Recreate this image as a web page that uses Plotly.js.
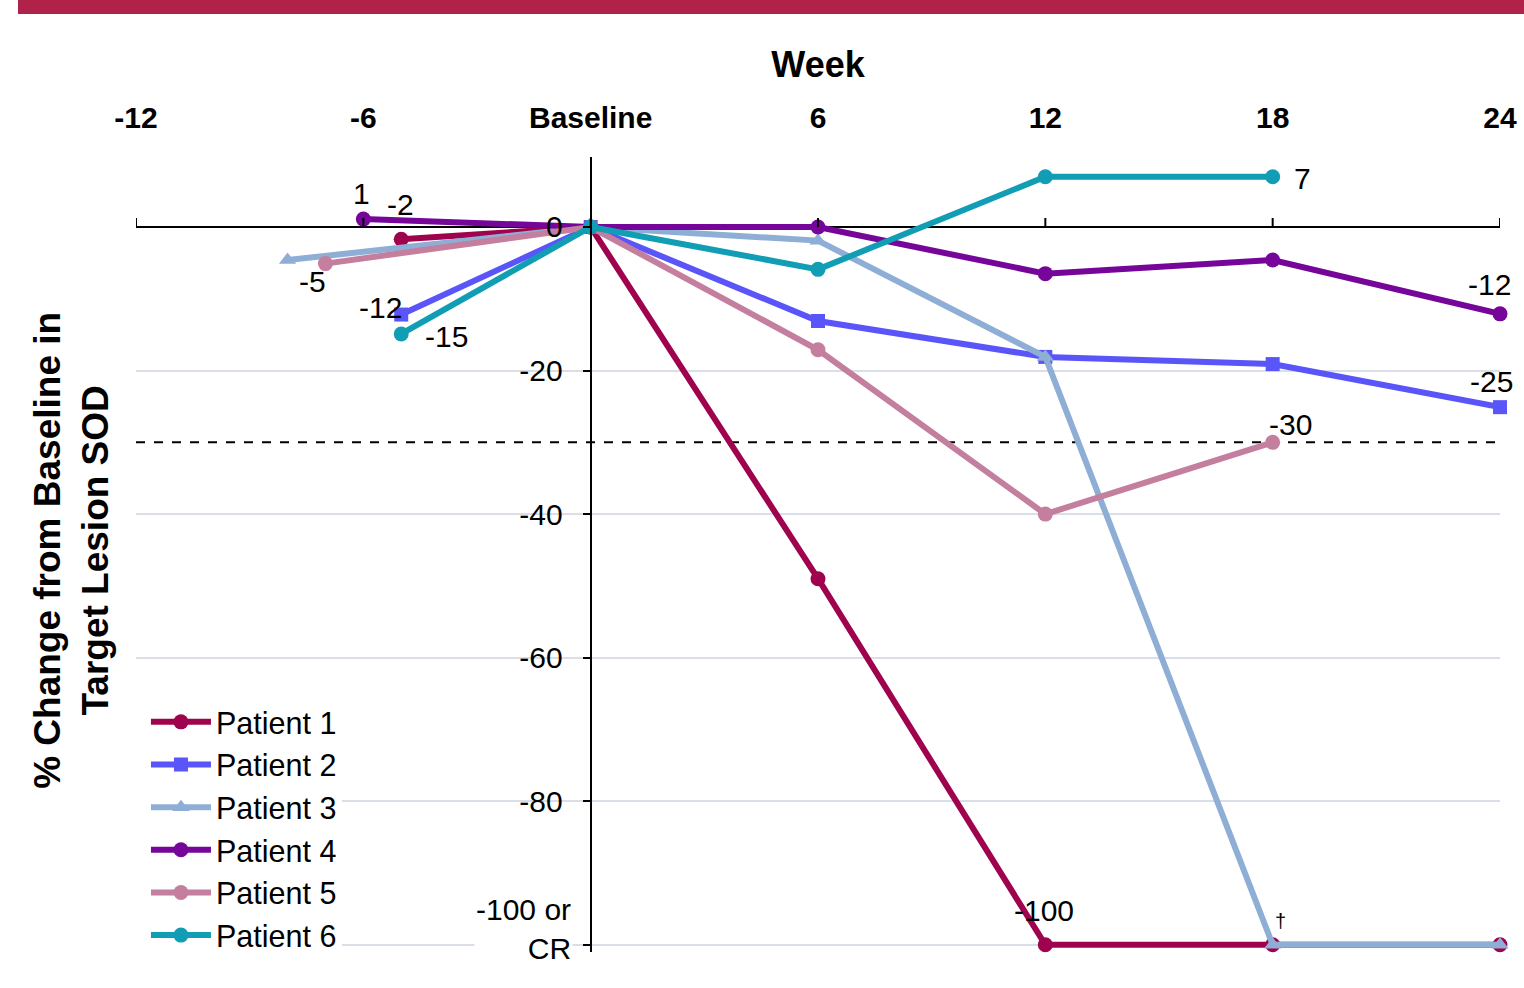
<!DOCTYPE html>
<html>
<head>
<meta charset="utf-8">
<script src="https://cdn.plot.ly/plotly-3.0.1.min.js"></script>
<style>html,body{margin:0;padding:0;background:#fff;}#chart{width:1524px;height:988px;}</style>
</head>
<body>
<div id="chart"></div>
<script>
// ---- data ----
const patientNames = ["Patient 1","Patient 2","Patient 3","Patient 4","Patient 5","Patient 6"];
const p1Weeks = [-5, 0, 6, 12, 18, 24];
const p1Values = [-1.7, 0, -49, -100, -100, -100];
const p2Weeks = [-5, 0, 6, 12, 18, 24];
const p2Values = [-12.2, 0, -13.1, -18.1, -19.1, -25.1];
const p3Weeks = [-8, 0, 6, 12, 18, 24];
const p3Values = [-4.6, 0, -1.9, -18.1, -100, -100];
const p4Weeks = [-6, 0, 6, 12, 18, 24];
const p4Values = [1.1, 0, 0, -6.5, -4.6, -12.1];
const p5Weeks = [-7, 0, 6, 12, 18];
const p5Values = [-5.1, 0, -17.1, -40, -30];
const p6Weeks = [-5, 0, 6, 12, 18];
const p6Values = [-14.9, 0, -5.9, 7, 7];

const xTickVals = [-12, -6, 0, 6, 12, 18, 24];
const xTickText = ["-12", "-6", "Baseline", "6", "12", "18", "24"];
const yTickVals = [0, -20, -40, -60, -80, -100];
const yTickText = ["0", "-20", "-40", "-60", "-80", ""];
const yBottomLabel = "-100 or<br>CR";
const thresholdValue = -30;

// data labels: [patient index, point index, text, xshift, yshift]
const dataLabels = [
  [3, 0, "1", -2, 26],
  [0, 0, "-2", -1, 35],
  [4, 0, "-5", -13, -18],
  [1, 0, "-12", -21, 7],
  [5, 0, "-15", 45, -3],
  [5, 4, "7", 30, -2],
  [3, 5, "-12", -11, 29],
  [1, 5, "-25", -9, 26],
  [4, 4, "-30", 18, 18],
  [0, 3, "-100", -1, 34],
  [2, 4, "\u2020", 8, 24]
];

// ---- styling ----
const colors = ["#A0034E", "#5A55F8", "#8EAED6", "#76069A", "#C47E9E", "#119EB4"];
const symbols = ["circle", "square", "triangle-up", "circle", "circle", "circle"];
const weeks = [p1Weeks, p2Weeks, p3Weeks, p4Weeks, p5Weeks, p6Weeks];
const values = [p1Values, p2Values, p3Values, p4Values, p5Values, p6Values];
const FONT = "Arial, 'Liberation Sans', Helvetica, sans-serif";

const traces = patientNames.map((n, i) => ({
  type: "scatter", mode: "lines+markers", name: n,
  x: weeks[i], y: values[i],
  line: {color: colors[i], width: 6},
  marker: {color: colors[i], size: symbols[i] === "square" ? 14 : 15, symbol: symbols[i]},
  cliponaxis: false
}));

const annotations = dataLabels.map(d => ({
  x: weeks[d[0]][d[1]], y: values[d[0]][d[1]], xref: "x", yref: "y",
  text: d[2], showarrow: false, xshift: d[3], yshift: d[4],
  font: {family: FONT, size: d[2] === "\u2020" ? 20 : 30, color: "#000"}
}));
annotations.push({
  xref: "paper", yref: "paper", x: -0.047, y: 0.5057, xanchor: "center", yanchor: "middle",
  text: "% Change from Baseline in<br>Target Lesion SOD", textangle: -90, showarrow: false,
  font: {family: FONT, size: 37, color: "#000", weight: "bold"}
});
annotations.push({
  xref: "x", yref: "y", x: 0, y: yTickVals[yTickVals.length - 1], xanchor: "right", yanchor: "middle",
  xshift: -18, yshift: 16, align: "right", showarrow: false, bgcolor: "#fff",
  text: yBottomLabel, font: {family: FONT, size: 30, color: "#000"}
});

const shapes = [
  {type: "rect", xref: "paper", yref: "paper", x0: -0.0865, x1: 1.1, y0: 1.1799, y1: 1.3,
   fillcolor: "#B0224A", line: {width: 0}, layer: "above"},
  {type: "line", xref: "paper", yref: "y", x0: 0, x1: 1, y0: thresholdValue, y1: thresholdValue,
   line: {color: "#000", width: 2, dash: "dash"}, layer: "between"},
  // white margin to the left of the legend box (legend background in the original starts at the plot edge)
  {type: "rect", xref: "paper", yref: "y", x0: -0.002, x1: 0.008, y0: -102, y1: -66,
   fillcolor: "#fff", line: {width: 0}, layer: "above"}
];
xTickVals.forEach(v => shapes.push({
  type: "line", xref: "x", yref: "y", ysizemode: "pixel", yanchor: 0,
  x0: v, x1: v, y0: 0, y1: 9, line: {color: "#000", width: 2}
}));

const layout = {
  width: 1524, height: 988,
  margin: {l: 136, r: 24, t: 157, b: 36},
  paper_bgcolor: "#fff", plot_bgcolor: "#fff",
  font: {family: FONT, color: "#000"},
  showlegend: true,
  legend: {x: 0.0073, y: -0.012, xanchor: "left", yanchor: "bottom", bgcolor: "#fff",
           borderwidth: 0, itemwidth: 60, tracegroupgap: 0,
           font: {family: FONT, size: 30.5, color: "#000"}},
  xaxis: {
    side: "top", range: [-12, 24], tickvals: xTickVals, ticktext: xTickText,
    showgrid: false, zeroline: false, showline: false, ticks: "",
    ticklabelstandoff: 22,
    tickfont: {family: FONT, size: 30, color: "#000", weight: "bold"},
    title: {text: "Week", standoff: 12, font: {family: FONT, size: 36, color: "#000", weight: "bold"}}
  },
  yaxis: {
    range: [-101, 9.75], tickvals: yTickVals, ticktext: yTickText,
    anchor: "free", position: (0 - (-12)) / 36, side: "left",
    showline: true, linecolor: "#000", linewidth: 2,
    ticks: "outside", ticklen: 7, tickwidth: 2, tickcolor: "#000",
    showgrid: true, gridcolor: "#D9DEE8", gridwidth: 2,
    zeroline: true, zerolinecolor: "#000", zerolinewidth: 2,
    tickfont: {family: FONT, size: 30, color: "#000"}, ticklabelstandoff: 14
  },
  shapes: shapes,
  annotations: annotations
};

Plotly.newPlot("chart", traces, layout, {displayModeBar: false, staticPlot: true});
</script>
</body>
</html>
